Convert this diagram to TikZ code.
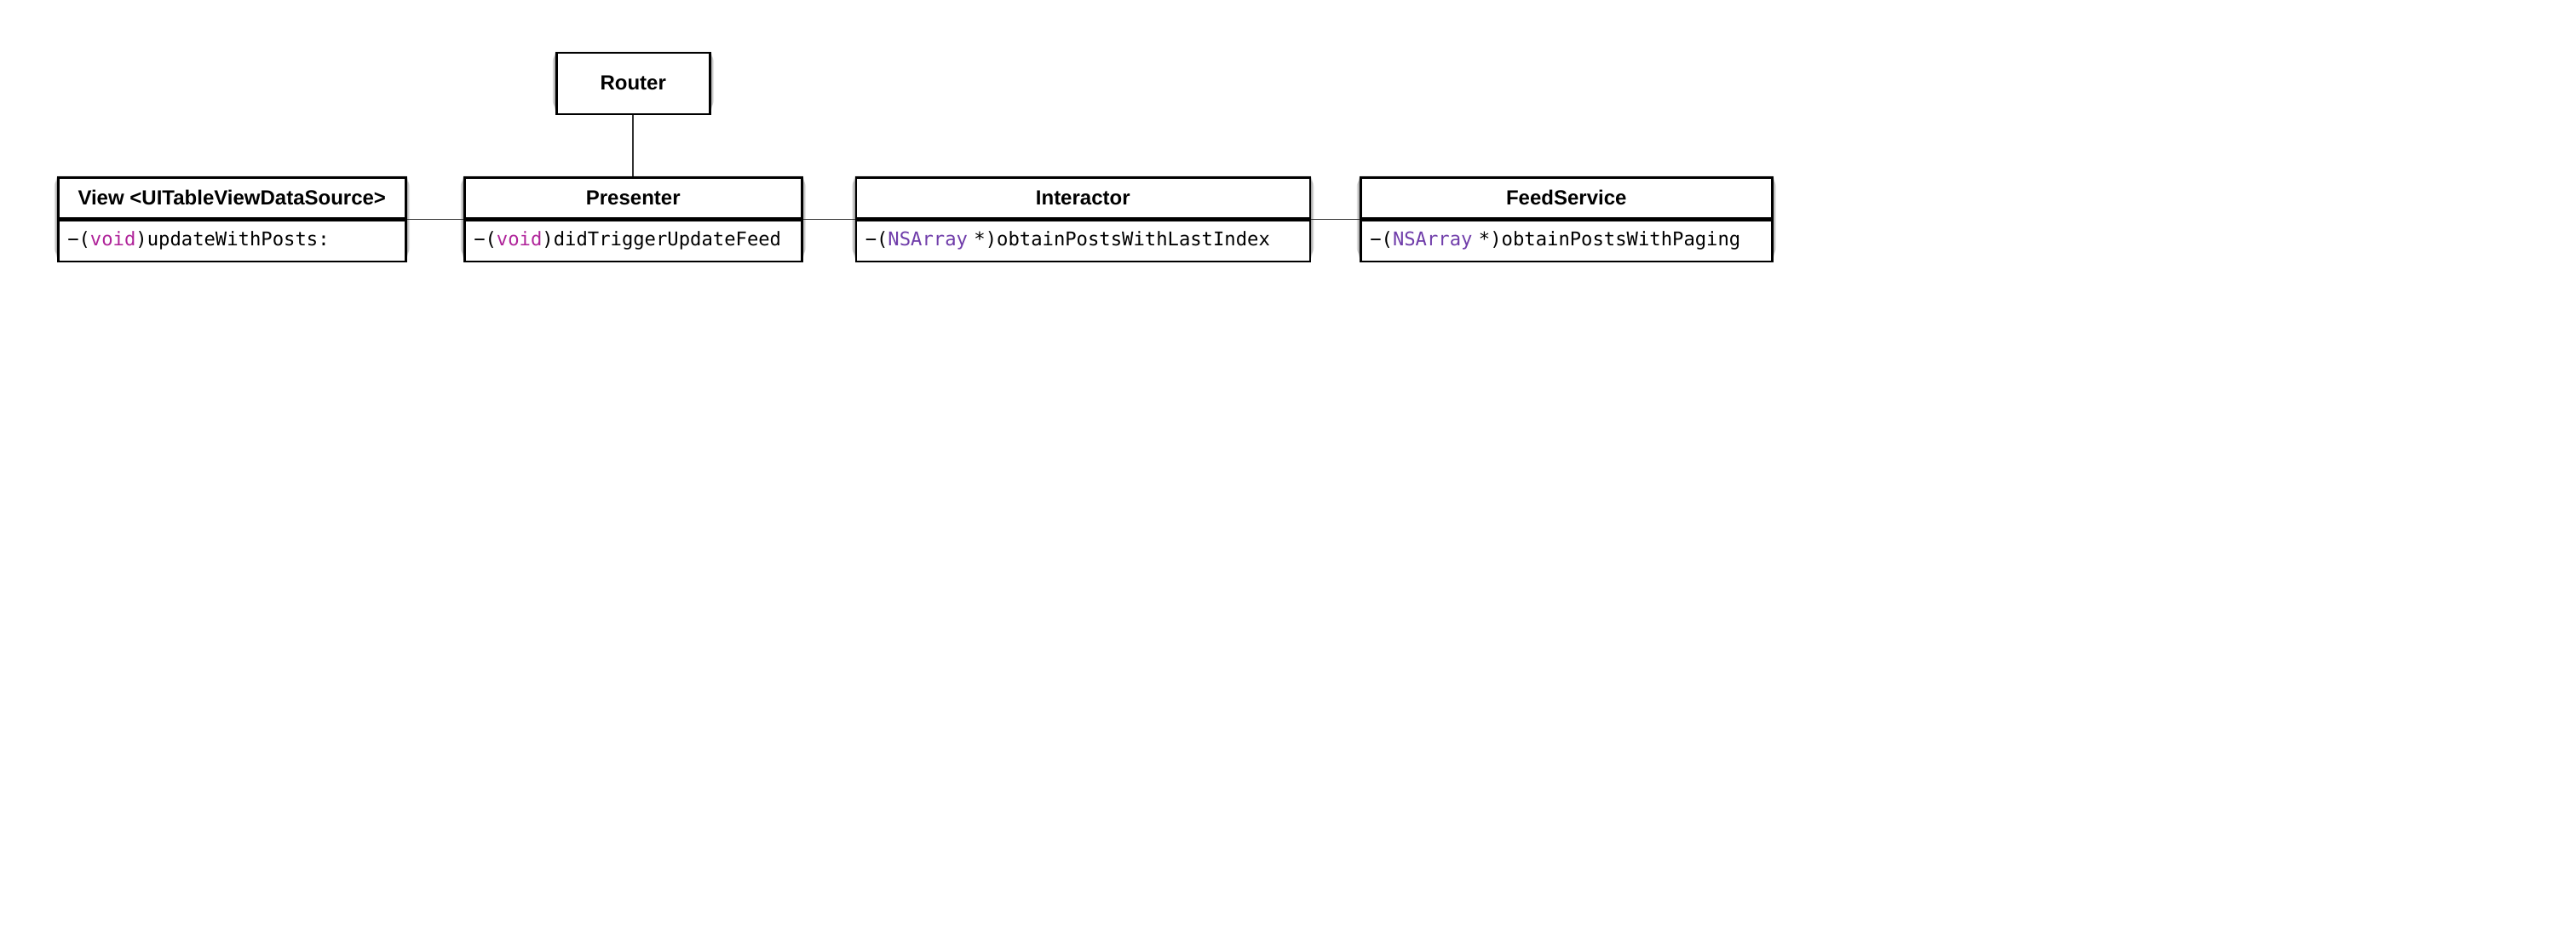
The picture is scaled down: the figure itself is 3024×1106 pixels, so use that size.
\documentclass[tikz,border=0pt]{standalone}
\usepackage{fontspec}
\setmainfont{Liberation Sans}
\newfontfamily\codefont{DejaVu Sans Mono}
\usetikzlibrary{calc,backgrounds}
\definecolor{kwcol}{HTML}{B0249A}
\definecolor{clscol}{HTML}{703DAA}
\definecolor{linecol}{HTML}{333333}
\newcommand{\kw}[1]{\textcolor{kwcol}{#1}}
\newcommand{\cls}[1]{\textcolor{clscol}{#1}}
\tikzset{
  titlebox/.style={draw=black, line width=2.5pt, fill=white, minimum height=48pt,
    inner sep=0pt, anchor=north west, font=\fontsize{24}{28}\selectfont\bfseries},
  methbox/.style={draw=black, line width=2.5pt, fill=white, minimum height=48pt,
    inner xsep=11pt, inner ysep=0pt, align=left, anchor=north west,
    font=\codefont\fontsize{22.2}{26}\selectfont},
  conn/.style={draw=linecol, line width=1.6pt},
}
\newcommand{\softshadow}[2]{%
  \foreach \i in {1,...,7}{
    \fill[black, opacity=0.06, rounded corners=\i pt]
      ($(#1)+({-0.5*\i pt},{-\i pt+2pt})$) rectangle ($(#2)+({0.5*\i pt},{\i pt+3pt})$);
  }}
\begin{document}
\begin{tikzpicture}[x=1pt,y=-1pt]
\useasboundingbox (0,0) rectangle (3024,1106);
% Router
\node[titlebox, minimum width=180pt, minimum height=72pt] (router) at (652,60.5) {Router};
% View
\node[titlebox, minimum width=408pt] (view-t) at (67,207) {View <UITableViewDataSource>};
\node[methbox, text width=386pt] (view-m) at (view-t.south west) {\textminus(\kw{void})updateWithPosts:};
% Presenter
\node[titlebox, minimum width=396pt] (pres-t) at (544,207) {Presenter};
\node[methbox, text width=374pt] (pres-m) at (pres-t.south west) {\textminus(\kw{void})didTriggerUpdateFeed};
% Interactor
\node[titlebox, minimum width=533pt] (int-t) at (1003.5,207) {Interactor};
\node[methbox, text width=511pt] (int-m) at (int-t.south west) {\textminus(\cls{NSArray} *)obtainPostsWithLastIndex};
% FeedService
\node[titlebox, minimum width=483pt] (feed-t) at (1596,207) {FeedService};
\node[methbox, text width=461pt] (feed-m) at (feed-t.south west) {\textminus(\cls{NSArray} *)obtainPostsWithPaging};
% shadows
\begin{scope}[on background layer]
\softshadow{router.north west}{router.south east}
\softshadow{view-t.north west}{view-m.south east}
\softshadow{pres-t.north west}{pres-m.south east}
\softshadow{int-t.north west}{int-m.south east}
\softshadow{feed-t.north west}{feed-m.south east}
\end{scope}
% connectors
\draw[conn] (router.south) -- (pres-t.north);
\draw[conn] (view-t.south east) -- (pres-t.south west);
\draw[conn] (pres-t.south east) -- (int-t.south west);
\draw[conn] (int-t.south east) -- (feed-t.south west);
\end{tikzpicture}
\end{document}
